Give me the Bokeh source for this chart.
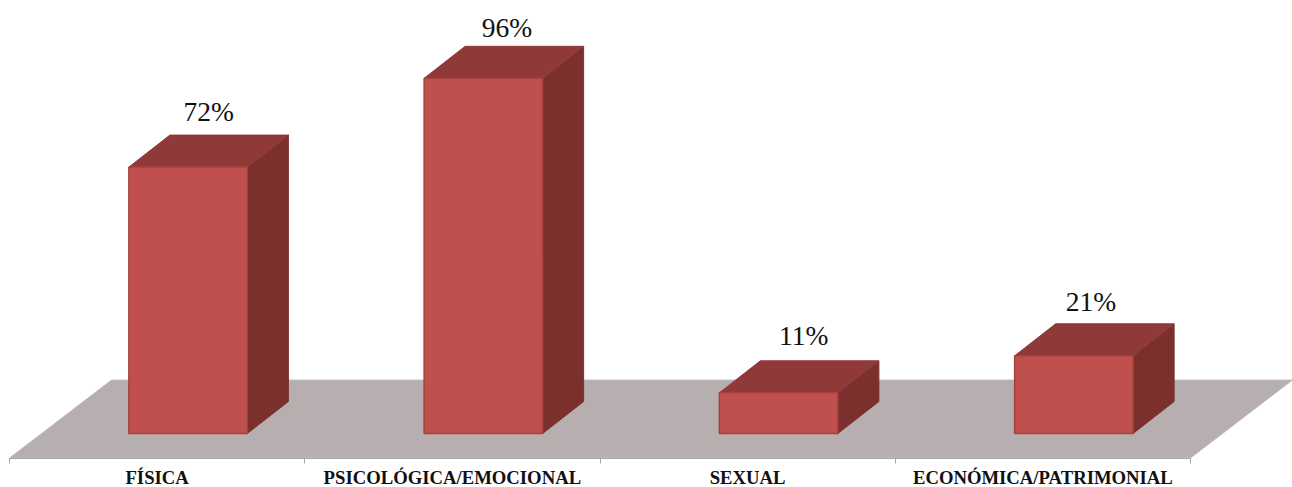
from bokeh.plotting import figure
from bokeh.embed import file_html
from bokeh.resources import INLINE
from bokeh.models import Range1d, LinearAxis, FixedTicker
from bokeh.core.properties import value

categories = ["FÍSICA", "PSICOLÓGICA/EMOCIONAL", "SEXUAL", "ECONÓMICA/PATRIMONIAL"]
values = [72, 96, 11, 21]
labels = ["72%", "96%", "11%", "21%"]

# layout constants (category units on x, percent on y)
PX_X = 295.25
PX_Y = 3.70
bar_shift = 0.105
bar_w = 118.5 / PX_X
depth_x = 41 / PX_X
depth_y = 32 / PX_Y
floor_dx = 102 / PX_X
floor_front = -24.5 / PX_Y
floor_back = 53.5 / PX_Y
label_dx = [20.5, 23.5, 25, 17]
label_gap = [24, 19, 25, 22]

W, H = 1292, 487
x0 = -9 / PX_X
x1 = x0 + W / PX_X
y1 = (433 / PX_Y)
y0 = y1 - H / PX_Y

p = figure(width=W, height=H, output_backend="svg", toolbar_location=None,
           x_range=Range1d(x0, x1), y_range=Range1d(y0, y1),
           min_border=0, min_border_left=0, min_border_right=0,
           min_border_top=0, min_border_bottom=0,
           x_axis_type=None, y_axis_type=None)
p.grid.visible = False
p.outline_line_color = None
p.background_fill_color = "white"
p.border_fill_color = None

# floor
n = len(categories)
p.patch([0, n, n + floor_dx, floor_dx], [floor_front, floor_front, floor_back, floor_back],
        fill_color="#B7AFAF", line_color="#C4BEBE", line_width=1)

# bars
lefts = [i + 0.5 + bar_shift - bar_w / 2 for i in range(n)]
rights = [l + bar_w for l in lefts]
p.patches([[r, r + depth_x, r + depth_x, r] for r in rights],
          [[0, depth_y, v + depth_y, v] for v in values],
          fill_color="#7B302E", line_color="#7B302E", line_width=1)
p.patches([[l, l + depth_x, r + depth_x, r] for l, r in zip(lefts, rights)],
          [[v, v + depth_y, v + depth_y, v] for v in values],
          fill_color="#8F3A38", line_color="#8F3A38", line_width=1)
p.quad(left=lefts, right=rights, bottom=[0] * n, top=values,
       fill_color="#C0504D", line_color="#A5403D", line_width=1.5)

# value labels
p.text(x=[l + bar_w / 2 + d / PX_X for l, d in zip(lefts, label_dx)],
       y=[v + depth_y + g / PX_Y for v, g in zip(values, label_gap)],
       text=labels, text_font=value("Liberation Serif"), text_font_size="27.5px",
       text_color="#111111", text_align="center", text_baseline="alphabetic")

# category axis, pinned to the front edge of the floor
axis = LinearAxis(ticker=FixedTicker(ticks=[i + 0.5 for i in range(n)],
                                     minor_ticks=list(range(n + 1))),
                  bounds=(0, n), fixed_location=floor_front)
axis.major_label_overrides = {i + 0.5: c for i, c in enumerate(categories)}
axis.major_tick_line_color = None
axis.major_tick_in = 0
axis.major_tick_out = 0
axis.minor_tick_in = 0
axis.minor_tick_out = 5
axis.minor_tick_line_color = "#A6A6A6"
axis.axis_line_color = "#A6A6A6"
axis.major_label_standoff = 4
axis.major_label_text_font = "Liberation Serif"
axis.major_label_text_font_style = "bold"
axis.major_label_text_font_size = "18.7px"
axis.major_label_text_color = "#111111"
p.add_layout(axis, "below")

open("out.html", "w").write(file_html(p, INLINE))
